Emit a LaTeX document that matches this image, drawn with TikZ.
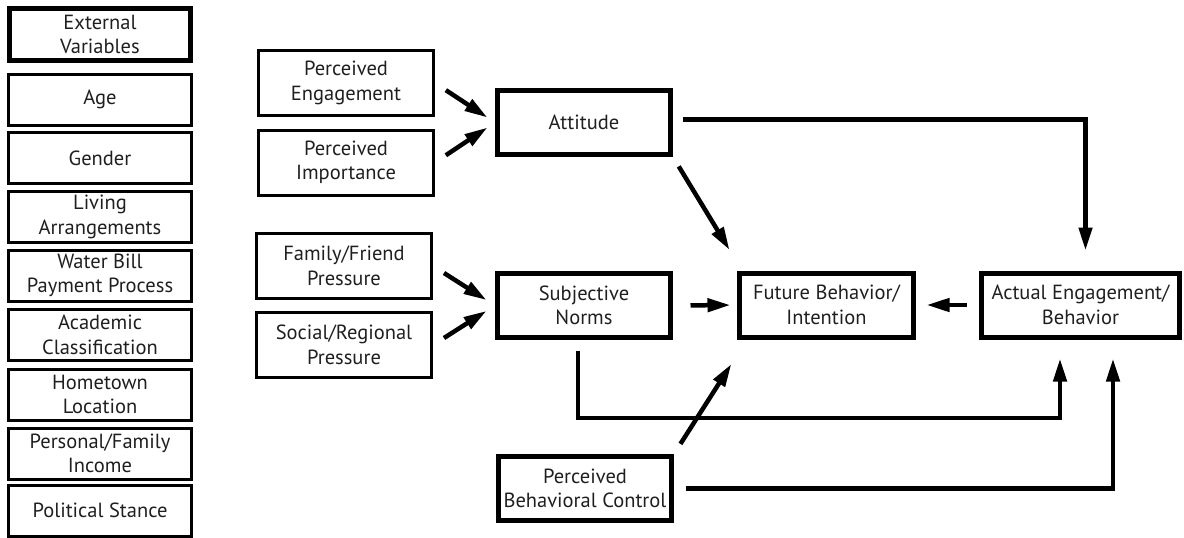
\documentclass[tikz,border=0pt]{standalone}
\usepackage{fontspec}
\setmainfont{PT Sans}
\usepackage{tikz}
\usetikzlibrary{arrows.meta}

\begin{document}
\begin{tikzpicture}[x=1pt, y=-1pt,
  font=\fontsize{20.5}{24.5}\selectfont,
  n/.style={draw, line width=3pt, align=center, inner sep=0pt, text=black!88,
            minimum width=175pt, minimum height=65pt},
  col/.style={n, minimum width=183pt, minimum height=51pt},
  hyp/.style={n, line width=5pt, minimum width=173pt, minimum height=64pt},
  e/.style={-{Triangle[length=23pt, width=13pt]}, line width=4.5pt}]

% picture is 1184 x 538, one unit per pixel, y running down
\useasboundingbox (0,0) rectangle (1184,538);

% --------------------------------------------- the external variables ---
\node[col, line width=5pt, minimum width=181pt, minimum height=52pt] (ext)
      at (100,34.5) {External\\Variables};
\node[col] (age) at (100,99.5)  {Age};
\node[col] (gen) at (100,158)   {Gender};
\node[col] (liv) at (100,217)   {Living\\Arrangements};
\node[col] (wat) at (100,275.5) {Water Bill\\Payment Process};
\node[col] (aca) at (100,335)   {Academic\\Classification};
\node[col] (hom) at (100,394.5) {Hometown\\Location};
\node[col] (inc) at (100,453.5) {Personal/Family\\Income};
\node[col] (pol) at (100,510.5) {Political Stance};

% ------------------------------------------------------ the model ---
\node[n] (pe) at (346,83)    {Perceived\\Engagement};
\node[n] (pi) at (346,162.5) {Perceived\\Importance};
\node[n] (ff) at (344,266)   {Family/Friend\\Pressure};
\node[n] (sr) at (344,345)   {Social/Regional\\Pressure};

\node[hyp] (att) at (584,122.5) {Attitude};
\node[hyp] (sub) at (584,305.5) {Subjective\\Norms};
\node[hyp, minimum width=174pt] (fut) at (826.5,305)
      {Future Behavior/\\Intention};
\node[hyp, minimum width=198pt] (act) at (1080.5,305)
      {Actual Engagement/\\Behavior};
\node[hyp] (pbc) at (585,488.5) {Perceived\\Behavioral Control};

\draw[e, shorten <=13pt, shorten >=9pt] (pe.east) -- (att.west);
\draw[e, shorten <=13pt, shorten >=9pt] (pi.east) -- (att.west);
\draw[e, shorten <=13pt, shorten >=10pt] (ff.east) -- (sub.west);
\draw[e, shorten <=13pt, shorten >=10pt] (sr.east) -- (sub.west);

\draw[e, shorten <=11pt, shorten >=24pt] (att.south east) -- ([xshift=5pt]fut.north west);
\draw[e, shorten <=17.5pt, shorten >=6.5pt] (sub.east) -- (fut.west);
\draw[e, shorten <=12.5pt, shorten >=10.5pt] (act.west) -- (fut.east);
\draw[e, shorten <=12pt, shorten >=29pt] (pbc.north east) -- ([xshift=10pt]fut.south west);

\draw[e, shorten <=10pt, shorten >=20pt] ([yshift=3pt]att.east) -| ([xshift=5pt]act.north);
\draw[e, shorten <=10.5pt, shorten >=19pt] ([xshift=-6pt]sub.south) -- ++(0,78)
      -| ([xshift=-20.5pt]act.south);
\draw[e, shorten <=11.5pt, shorten >=19pt] (pbc.east) -| ([xshift=32.5pt]act.south);

\end{tikzpicture}
\end{document}
